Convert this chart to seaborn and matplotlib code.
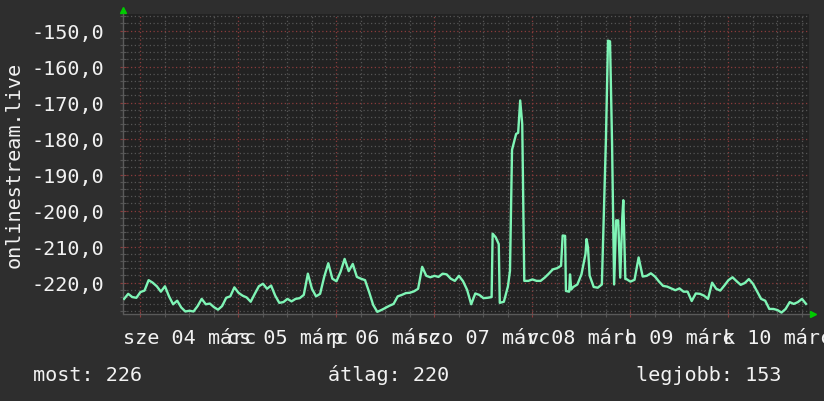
import numpy as np
import pandas as pd
import seaborn as sns
import matplotlib
matplotlib.use("Agg")
import matplotlib.pyplot as plt
from matplotlib.ticker import MultipleLocator, FuncFormatter

# one value per hour, hour 0 = 2020-03-03 20:00 (rrd shows the values negated)
hourly = [
    -224.5, -223.1, -224.0, -224.2, -222.6, -222.2, -219.3, -220.0, -221.0, -222.5,
    -221.0, -223.8, -226.0, -225.0, -226.9, -228.0, -227.8, -228.0, -226.5, -224.5,
    -226.0, -225.8, -226.8, -227.5, -226.5, -224.2, -223.8, -221.3, -222.8, -223.6,
    -224.1, -225.3, -223.1, -221.0, -220.3, -221.7, -220.8, -223.6, -225.6, -225.4,
    -224.5, -225.2, -224.5, -224.3, -223.4, -217.5, -221.7, -223.8, -223.1, -218.4,
    -214.6, -218.9, -219.6, -217.0, -213.4, -216.8, -214.8, -218.4, -218.9, -219.3,
    -222.6, -226.2, -228.1, -227.6, -227.0, -226.4, -225.9, -223.8, -223.4, -222.9,
    -222.8, -222.4, -221.7, -215.6, -218.1, -218.5, -218.1, -218.4, -217.5, -217.7,
    -218.9, -219.5, -218.1, -219.6, -222.0, -226.0, -223.0, -223.4, -224.3, -224.2,
    -224.0, -207.4, -225.6, -225.3, -221.0, -183.1, -178.7, -169.4, -219.5, -219.5,
    -219.1, -219.5, -219.5, -218.6, -217.5, -216.3, -216.0, -215.3, -207.0, -222.5,
    -221.2, -220.5, -217.7, -212.0, -218.0, -221.2, -221.4, -220.5, -180.0, -153.0,
    -220.5, -202.7, -202.0, -219.0, -219.7, -219.2, -213.0, -218.3, -218.1, -217.4,
    -218.3, -219.7, -220.9, -221.1, -221.6, -222.1, -221.6, -222.5, -222.5, -225.1,
    -223.0, -223.1, -223.6, -224.5, -220.0, -221.7, -222.2, -220.8, -219.3, -218.5,
    -219.6, -220.6, -220.1, -219.0, -220.3, -222.4, -224.5, -225.0, -227.3, -227.3,
    -227.6, -228.3, -227.3, -225.4, -225.9, -225.4, -224.5, -225.9,
]

# extra readings where the spikes are shorter than an hour
extra_h = [90.25, 91.75, 94.5, 96.5, 97.5, 107.4, 108.2, 109.2, 109.5, 113.25, 113.6,
           118.5, 119.5, 120.5, 121.5, 122.25, 122.75]
extra_v = [-206.4, -209.3, -216.7, -178.4, -176.0, -206.9, -222.3, -217.7, -221.9, -207.9,
           -210.2, -152.8, -181.5, -202.7, -218.6, -197.1, -219.0]

day_labels = ["sze 04 márc", "cs 05 márc", "p 06 márc", "szo 07 márc",
              "v 08 márc", "h 09 márc", "k 10 márc"]
y_ticks = [-220, -210, -200, -190, -180, -170, -160, -150]
y_title = "onlinestream.live"
summary = ["most: 226", "átlag: 220", "legjobb: 153"]

BG = "#2e2e2e"
PLOT_BG = "#222222"
LINE = "#7ff5b6"
MAJOR = "#8a3b3b"
MINOR = "#555555"
TXT = "#f2f2f2"
FONT = "DejaVu Sans Mono"
FS = 14.5

hours = list(range(len(hourly))) + extra_h
vals = hourly + extra_v
df = pd.DataFrame({"t": np.array(hours) - 4.0, "v": vals}).sort_values("t")

fig = plt.figure(figsize=(8.24, 4.02), dpi=100, facecolor=BG)
ax = fig.add_axes([123.5 / 824, 1 - 315 / 402, 686 / 824, 300 / 402])
ax.set_facecolor(PLOT_BG)

sns.lineplot(data=df, x="t", y="v", ax=ax, color=LINE, lw=1.7,
             estimator=None, sort=False, zorder=3)

ax.set_xlim(-4.15, 163.85)
ax.set_ylim(-228.7, -145.4)

ax.set_xticks(range(0, 168, 24))
ax.xaxis.set_minor_locator(MultipleLocator(6))
ax.set_yticks(y_ticks)
ax.yaxis.set_minor_locator(MultipleLocator(2))

ax.grid(which="minor", color=MINOR, linestyle=(0, (1, 2)), lw=0.9)
ax.grid(which="major", color=MAJOR, linestyle=(0, (1, 2)), lw=0.9)
ax.set_axisbelow(True)


def day_fmt(t, pos):
    d = int(t // 24)
    if t % 24 == 12 and 0 <= d < len(day_labels):
        return day_labels[d]
    return ""


ax.xaxis.set_major_formatter(FuncFormatter(lambda t, pos: ""))
ax.xaxis.set_minor_formatter(FuncFormatter(day_fmt))
ax.set_yticklabels([f"{v:.1f}".replace(".", ",") for v in y_ticks])

ax.tick_params(axis="x", which="both", direction="inout", length=4, width=0.8,
               labelsize=FS, labelcolor=TXT, pad=19)
ax.tick_params(axis="x", which="major", color=MAJOR)
ax.tick_params(axis="x", which="minor", color=MINOR)
ax.tick_params(axis="y", which="both", direction="inout", length=4, width=0.8,
               labelsize=FS, labelcolor=TXT, pad=12)
ax.tick_params(axis="y", which="major", color=MAJOR)
ax.tick_params(axis="y", which="minor", color=MINOR)
for lab in ax.get_xticklabels(minor=True):
    lab.set_fontfamily(FONT)
    lab.set_verticalalignment("baseline")
for lab in ax.get_yticklabels():
    lab.set_fontfamily(FONT)

ax.set_xlabel("")
ax.set_ylabel("")
for s in ["top", "right"]:
    ax.spines[s].set_visible(False)
for s in ["left", "bottom"]:
    ax.spines[s].set_color("#5a5a5a")
    ax.spines[s].set_linewidth(1.0)

# rrdtool style arrow heads
ax.plot([0], [1.015], marker="^", ms=5, color="#00cc00", transform=ax.transAxes, clip_on=False)
ax.plot([1.005], [0], marker=">", ms=5, color="#00cc00", transform=ax.transAxes, clip_on=False)

fig.text(14 / 824, 1 - 165 / 402, y_title, rotation=90, ha="center", va="center",
         color=TXT, fontsize=FS, family=FONT)
for s, x in zip(summary, [33, 328, 636]):
    fig.text(x / 824, 1 - 381 / 402, s, ha="left", va="baseline",
             color=TXT, fontsize=FS, family=FONT)

fig.savefig("out.png", dpi=100, facecolor=BG)
